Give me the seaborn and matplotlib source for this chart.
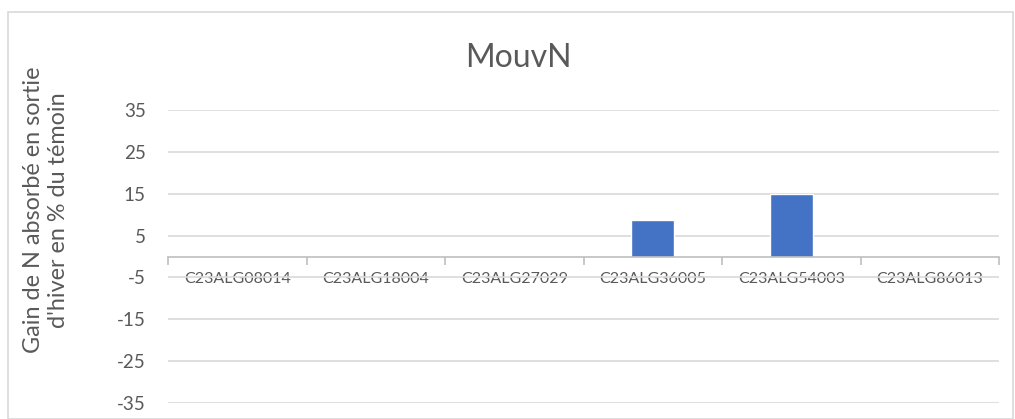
import matplotlib
matplotlib.use("Agg")
import matplotlib.pyplot as plt
import seaborn as sns
import pandas as pd
import numpy as np
from matplotlib.patches import Rectangle

categories = ["C23ALG08014", "C23ALG18004", "C23ALG27029", "C23ALG36005", "C23ALG54003", "C23ALG86013"]
values = [0.0, -0.3, 0.0, 8.7, 14.9, 0.0]
yticks = [-35, -25, -15, -5, 5, 15, 25, 35]

sns.set_theme(style="white")
plt.rcParams['font.family'] = ['Lato', 'DejaVu Sans']

df = pd.DataFrame({"cat": categories, "val": values})

fig = plt.figure(figsize=(10.15, 4.19), dpi=100)
ax = fig.add_axes([168/1015, 1-403/419, (999-168)/1015, (403-110)/419])

sns.barplot(data=df, x="cat", y="val", color="#4472C4", width=0.31, ax=ax, zorder=3, saturation=1)

ax.set_ylim(-35, 35)
ax.set_xlim(-0.5, len(categories) - 0.5)
ax.set_yticks(yticks)
ax.set_yticklabels([str(t) for t in yticks], fontsize=13.5, color="#595959")
ax.yaxis.grid(True, color="#D9D9D9", linewidth=1.2, zorder=0)
ax.tick_params(axis="y", length=0, pad=16)

for s in ["top", "right", "left"]:
    ax.spines[s].set_visible(False)
ax.spines["bottom"].set_position(("data", 0))
ax.spines["bottom"].set_color("#BFBFBF")
ax.spines["bottom"].set_linewidth(1.2)
ax.spines["bottom"].set_zorder(4)

ax.set_xticks(range(len(categories)))
ax.set_xticklabels(categories, fontsize=11.5, color="#595959")
ax.set_xticks(np.arange(-0.5, len(categories), 1.0), minor=True)
ax.tick_params(axis="x", which="both", bottom=True)
ax.tick_params(axis="x", which="major", length=0, pad=11)
ax.tick_params(axis="x", which="minor", length=6, color="#BFBFBF", width=1.2, direction="out")
ax.set_xlabel("")
ax.set_ylabel("")

fig.text(46/1015, 1-210/419, "Gain de N absorbé en sortie\nd'hiver en % du témoin", fontsize=16.8,
         color="#595959", rotation=90, ha="center", va="center", multialignment="center", linespacing=1.2)

fig.text(518/1015, 1-58/419, "MouvN", fontsize=23, color="#595959", ha="center", va="center")

fig.patches.append(Rectangle((8/1015, 0), 1-8/1015-2/1015, 1-12/419, transform=fig.transFigure,
                             fill=False, edgecolor="#D9D9D9", linewidth=1.2))

fig.savefig("out.png", dpi=100)
